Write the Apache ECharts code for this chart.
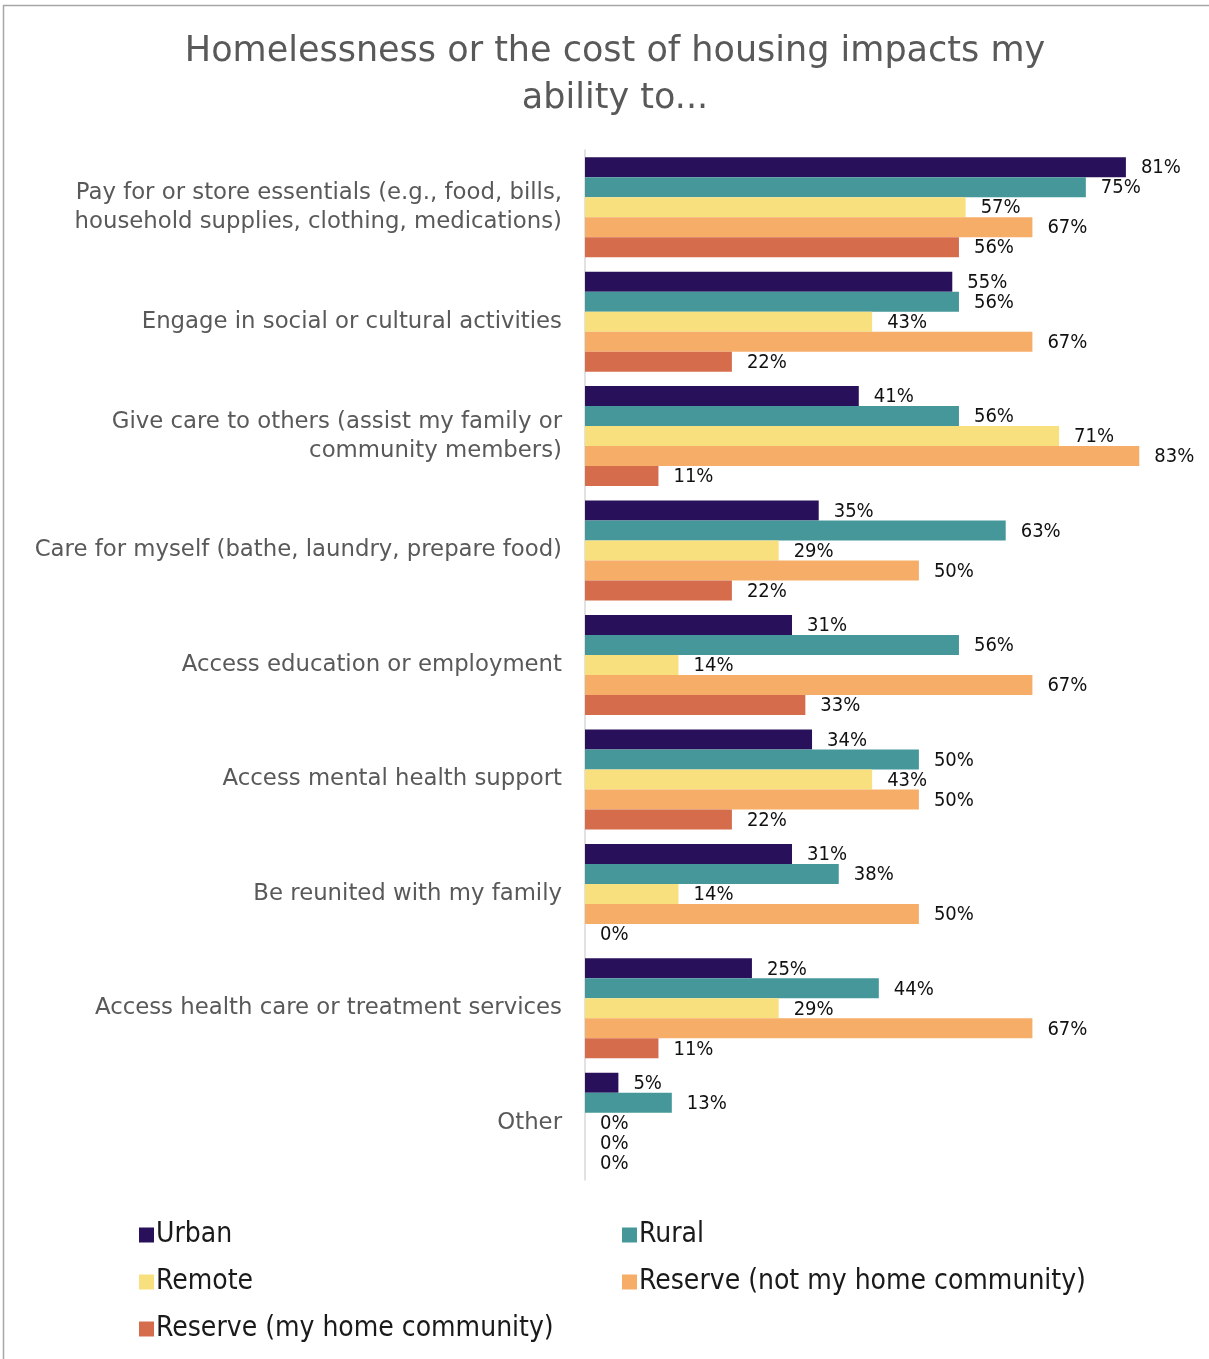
<!DOCTYPE html>
<html>
<head>
<meta charset="utf-8">
<script src="https://cdn.jsdelivr.net/npm/echarts@6/dist/echarts.min.js"></script>
<style>
  html, body { margin: 0; padding: 0; background: #fff; }
  #chart { width: 1209px; height: 1359px; }
</style>
</head>
<body>
<div id="chart"></div>
<script>
// Survey: how homelessness / housing cost affects each activity, by community type (%)
const categories = [
  'Pay for or store essentials (e.g., food, bills,\nhousehold supplies, clothing, medications)',
  'Engage in social or cultural activities',
  'Give care to others (assist my family or\ncommunity members)',
  'Care for myself (bathe, laundry, prepare food)',
  'Access education or employment',
  'Access mental health support',
  'Be reunited with my family',
  'Access health care or treatment services',
  'Other'
];
const seriesNames = ['Urban', 'Rural', 'Remote', 'Reserve (not my home community)', 'Reserve (my home community)'];
const urban        = [81, 55, 41, 35, 31, 34, 31, 25, 5];
const rural        = [75, 56, 56, 63, 56, 50, 38, 44, 13];
const remote       = [57, 43, 71, 29, 14, 43, 14, 29, 0];
const reserveAway  = [67, 67, 83, 50, 67, 50, 50, 67, 0];
const reserveHome  = [56, 22, 11, 22, 33, 22, 0, 11, 0];
const colors = ['#28115a', '#45979a', '#f8e07f', '#f6ad68', '#d56d4d'];

const allValues = [urban, rural, remote, reserveAway, reserveHome];

const chart = echarts.init(document.getElementById('chart'));

const labelFont = "'Liberation Sans Narrow', 'DejaVu Sans Condensed', sans-serif";

const legendText = { fontFamily: labelFont, fontSize: 28, color: '#1a1a1a', padding: [0, 0, 0, -3] };

chart.setOption({
  animation: false,
  backgroundColor: '#fff',
  title: {
    text: 'Homelessness or the cost of housing impacts my\nability to...',
    left: 610,
    textAlign: 'center',
    top: 23,
    textStyle: {
      fontFamily: "'DejaVu Sans', sans-serif",
      fontWeight: 'normal',
      fontSize: 35,
      lineHeight: 47,
      color: '#595959'
    }
  },
  graphic: [{
    type: 'rect',
    shape: { x: 3.5, y: 5.5, width: 1240, height: 1400 },
    style: { fill: 'none', stroke: '#a6a6a6', lineWidth: 1.5 },
    silent: true
  }],
  legend: [
    {
      orient: 'vertical', left: 134, top: 1216, height: 200, itemGap: 19,
      itemWidth: 15, itemHeight: 15,
      data: [seriesNames[0], seriesNames[2], seriesNames[4]],
      textStyle: legendText,
      icon: 'rect'
    },
    {
      orient: 'vertical', left: 617, top: 1216, height: 200, itemGap: 19,
      itemWidth: 15, itemHeight: 15,
      data: [seriesNames[1], seriesNames[3]],
      textStyle: legendText,
      icon: 'rect'
    }
  ],
  grid: { left: 585, top: 150, right: 23, height: 1030, containLabel: false },
  xAxis: {
    type: 'value', min: 0, max: 90,
    show: false
  },
  yAxis: {
    type: 'category',
    inverse: true,
    data: categories,
    axisLine: { show: true, lineStyle: { color: '#d9d9d9', width: 1.5 } },
    axisTick: { show: false },
    axisLabel: {
      margin: 23,
      fontFamily: "'DejaVu Sans', sans-serif",
      fontSize: 22.8,
      lineHeight: 29,
      color: '#595959',
      align: 'right'
    }
  },
  series: allValues.map((vals, i) => ({
    name: seriesNames[i],
    type: 'bar',
    data: vals,
    barWidth: 20,
    barGap: '0%',
    itemStyle: { color: colors[i] },
    label: {
      show: true,
      position: 'right',
      distance: 15,
      offset: [0, 1],
      formatter: p => p.value + '%',
      fontFamily: labelFont,
      fontSize: 20,
      color: '#111'
    }
  }))
});
</script>
</body>
</html>
